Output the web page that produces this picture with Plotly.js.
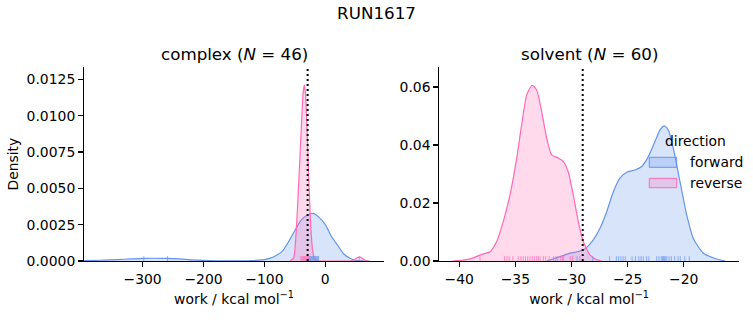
<!DOCTYPE html>
<html>
<head>
<meta charset="utf-8">
<script src="https://cdn.plot.ly/plotly-3.0.1.min.js"></script>
<style>html,body{margin:0;padding:0;background:#fff;}#chart{width:753px;height:325px;}</style>
</head>
<body>
<div id="chart"></div>
<script>
// ---------- data ----------
const directions = ["forward", "reverse"];

// complex leg: KDE curves (work, density)
const complexForwardWork = [-396, -370, -340, -320, -300, -280, -260, -240, -220, -200, -180, -160, -140, -120, -110, -100, -90, -80, -70, -60, -50, -40, -30, -20, -10, 0, 10, 20, 30, 40, 50, 60, 70];
const complexForwardDens = [0.00002, 0.00005, 0.0001, 0.00014, 0.00018, 0.00019, 0.00018, 0.00014, 0.00008, 0.00004, 0.00001, 0.000005, 0.00001, 0.00003, 0.00006, 0.0001, 0.0002, 0.0004, 0.0007, 0.00135, 0.0021, 0.0028, 0.00315, 0.00328, 0.003, 0.0025, 0.0017, 0.0011, 0.0005, 0.0002, 0.00004, 0.000005, 0];

const complexReverseWork = [-58, -52, -48, -45, -42, -39, -36.5, -34.5, -32.5, -30, -27, -24, -21, -18, -14, -5, 10, 25, 40, 44, 48, 52, 56, 60, 64, 68, 72];
const complexReverseDens = [0, 0.0002, 0.0019, 0.0042, 0.0068, 0.0095, 0.0115, 0.0121, 0.0115, 0.0091, 0.0055, 0.0025, 0.0008, 0.0002, 0.00002, 0, 0, 0, 0, 0.00001, 0.0001, 0.00022, 0.00026, 0.0002, 0.00008, 0.00001, 0];

// solvent leg: KDE curves
const solventForwardWork = [-32.2, -31.5, -31.0, -30.13, -29.5, -28.95, -28.5, -28.06, -27.46, -26.86, -26.27, -25.68, -25.08, -24.34, -23.74, -23.15, -22.56, -22.11, -21.73, -21.37, -20.93, -20.33, -19.73, -19.14, -18.25, -17.06, -16.3];
const solventForwardDens = [0, 0.0009, 0.0015, 0.0027, 0.0032, 0.0038, 0.0052, 0.0073, 0.0113, 0.017, 0.0239, 0.0286, 0.0306, 0.0314, 0.0326, 0.036, 0.0412, 0.0452, 0.0466, 0.0452, 0.0389, 0.0274, 0.0159, 0.0078, 0.0027, 0.0007, 0];

const solventReverseWork = [-40.6, -39.5, -38.75, -38.0, -37.26, -36.67, -36.08, -35.48, -34.88, -34.44, -33.99, -33.52, -33.1, -32.66, -32.21, -31.77, -31.18, -30.73, -30.29, -29.84, -29.39, -28.95, -28.35, -27.8, -27.3];
const solventReverseDens = [0, 0.0004, 0.0011, 0.0023, 0.0032, 0.0067, 0.0136, 0.0228, 0.0355, 0.047, 0.0573, 0.0606, 0.059, 0.0516, 0.0424, 0.0366, 0.0355, 0.0343, 0.0308, 0.0228, 0.0136, 0.0067, 0.0021, 0.0005, 0];

// rug samples
const complexForwardRug = [-298, -259, -26, -25, -24, -23, -22, -21, -20, -19, -18, -17, -16, -15, -14, -13, -12, -11];
const complexReverseRug = [-40, -38.5, -37, -36, -35, -34.5, -34, -33.5, -33, -32, -31.5, -31, -30, -29.5, -29, -28, -27.5, 56];
const solventForwardRug = [-29.5, -28.1, -26.6, -26.0, -25.8, -25.6, -25.4, -25.2, -24.6, -24.3, -24.0, -23.8, -23.6, -23.3, -23.1, -22.4, -22.2, -22.0, -21.9, -21.8, -21.7, -21.6, -21.5, -21.3, -21.1, -20.8, -20.5, -20.3, -19.9, -19.5];
const solventReverseRug = [-38.15, -35.96, -35.75, -35.55, -35.22, -34.75, -34.5, -34.3, -34.1, -33.9, -33.7, -33.5, -33.3, -33.1, -32.95, -32.8, -32.5, -32.3, -32.0, -31.6, -31.4, -31.25, -30.95, -30.8, -30.7, -30.1, -29.9, -29.25];

// dotted reference line (work)
const complexRef = -29.0;
const solventRef = -29.0;

// titles / ticks
const suptitle = "RUN1617";
const complexTitle = "complex (<i>N</i> = 46)";
const solventTitle = "solvent (<i>N</i> = 60)";
const xTitle = "work / kcal mol<sup>−1</sup>";
const yTitle = "Density";
const complexXTicks = [-300, -200, -100, 0];
const complexYTicks = [0, 0.0025, 0.005, 0.0075, 0.01, 0.0125];
const solventXTicks = [-40, -35, -30, -25, -20];
const solventYTicks = [0, 0.02, 0.04, 0.06];

// ---------- styling ----------
const W = 753, H = 325;
const FONT = "DejaVu Sans, sans-serif";
const BLUE = "#6495ED", PINK = "#FF69B4";
const BLUE_F = "rgba(100,149,237,0.25)", PINK_F = "rgba(255,105,180,0.25)";
const px = x => x / W, py = y => 1 - y / H;

const complexYRange = [0, 0.01333];
const solventYRange = [0, 0.0668];

function kde(x, y, color, fill, xa, ya, name) {
  return {x: x, y: y, type: "scatter", mode: "lines", name: name,
    line: {color: color, width: 1.2, shape: "spline", smoothing: 0.6},
    fill: "tozeroy", fillcolor: fill, xaxis: xa, yaxis: ya, hoverinfo: "skip", showlegend: false};
}
function rug(vals, color, xa, ya, h) {
  const xs = [], ys = [];
  vals.forEach(v => { xs.push(v, v, null); ys.push(0, h, null); });
  return {x: xs, y: ys, type: "scatter", mode: "lines", line: {color: color, width: 1},
    opacity: 0.7, xaxis: xa, yaxis: ya, hoverinfo: "skip", showlegend: false};
}

const traces = [
  kde(complexForwardWork, complexForwardDens, BLUE, BLUE_F, "x", "y", directions[0]),
  kde(complexReverseWork, complexReverseDens, PINK, PINK_F, "x", "y", directions[1]),
  kde(solventForwardWork, solventForwardDens, BLUE, BLUE_F, "x2", "y2", directions[0]),
  kde(solventReverseWork, solventReverseDens, PINK, PINK_F, "x2", "y2", directions[1]),
  rug(complexForwardRug, BLUE, "x", "y", 0.025 * complexYRange[1]),
  rug(complexReverseRug, PINK, "x", "y", 0.025 * complexYRange[1]),
  rug(solventForwardRug, BLUE, "x2", "y2", 0.025 * solventYRange[1]),
  rug(solventReverseRug, PINK, "x2", "y2", 0.025 * solventYRange[1])
];

const tickFont = {family: FONT, size: 13.9, color: "#000"};
const axBase = {showline: true, linecolor: "#000", linewidth: 1.1, ticks: "outside", ticklen: 4.9,
  tickwidth: 1.1, tickcolor: "#000", showgrid: false, zeroline: false, tickfont: tickFont, fixedrange: true};

const layout = {
  width: W, height: H, margin: {l: 0, r: 0, t: 0, b: 0},
  paper_bgcolor: "#fff", plot_bgcolor: "rgba(0,0,0,0)", showlegend: false,
  font: {family: FONT, color: "#000"},
  title: {text: suptitle, x: 0.5, xanchor: "center", y: py(13), yanchor: "middle", yref: "paper",
    font: {family: FONT, size: 16.7, color: "#000"}},
  xaxis: Object.assign({}, axBase, {domain: [px(84), px(384)], range: [-396.2, 96.4], anchor: "y",
    tickmode: "array", tickvals: complexXTicks,
    title: {text: xTitle, font: {family: FONT, size: 13.9, color: "#000"}, standoff: 8}}),
  yaxis: Object.assign({}, axBase, {domain: [py(261), py(67.3)], range: complexYRange, anchor: "x",
    tickmode: "array", tickvals: complexYTicks, tickformat: ".4f",
    title: {text: yTitle, font: {family: FONT, size: 13.9, color: "#000"}, standoff: 4}}),
  xaxis2: Object.assign({}, axBase, {domain: [px(439.3), px(739)], range: [-41.78, -15.07], anchor: "y2",
    tickmode: "array", tickvals: solventXTicks,
    title: {text: xTitle, font: {family: FONT, size: 13.9, color: "#000"}, standoff: 8}}),
  yaxis2: Object.assign({}, axBase, {domain: [py(261), py(67.3)], range: solventYRange, anchor: "x2",
    tickmode: "array", tickvals: solventYTicks, tickformat: ".2f"}),
  shapes: [
    {type: "line", xref: "x", yref: "y domain", x0: complexRef, x1: complexRef, y0: 0, y1: 1,
      line: {color: "#000", width: 2, dash: "2px,3px"}},
    {type: "line", xref: "x2", yref: "y2 domain", x0: solventRef, x1: solventRef, y0: 0, y1: 1,
      line: {color: "#000", width: 2, dash: "2px,3px"}},
    {type: "rect", xref: "paper", yref: "paper", x0: px(649.3), x1: px(676.7), y0: py(167.3), y1: py(157.3),
      fillcolor: BLUE_F, line: {color: BLUE, width: 1}},
    {type: "rect", xref: "paper", yref: "paper", x0: px(649.3), x1: px(676.7), y0: py(187.7), y1: py(178.3),
      fillcolor: PINK_F, line: {color: PINK, width: 1}}
  ],
  annotations: [
    {text: complexTitle, xref: "paper", yref: "paper", x: px(234), y: py(54), xanchor: "center", yanchor: "middle",
      showarrow: false, font: {family: FONT, size: 16.7, color: "#000"}},
    {text: solventTitle, xref: "paper", yref: "paper", x: px(589), y: py(54), xanchor: "center", yanchor: "middle",
      showarrow: false, font: {family: FONT, size: 16.7, color: "#000"}},
    {text: "direction", xref: "paper", yref: "paper", x: px(695), y: py(141), xanchor: "center", yanchor: "middle",
      showarrow: false, font: {family: FONT, size: 13.9, color: "#000"}},
    {text: directions[0], xref: "paper", yref: "paper", x: px(688), y: py(161.7), xanchor: "left", yanchor: "middle",
      showarrow: false, font: {family: FONT, size: 13.9, color: "#000"}},
    {text: directions[1], xref: "paper", yref: "paper", x: px(688), y: py(182.7), xanchor: "left", yanchor: "middle",
      showarrow: false, font: {family: FONT, size: 13.9, color: "#000"}}
  ]
};

Plotly.newPlot("chart", traces, layout, {displayModeBar: false, staticPlot: true});
</script>
</body>
</html>
